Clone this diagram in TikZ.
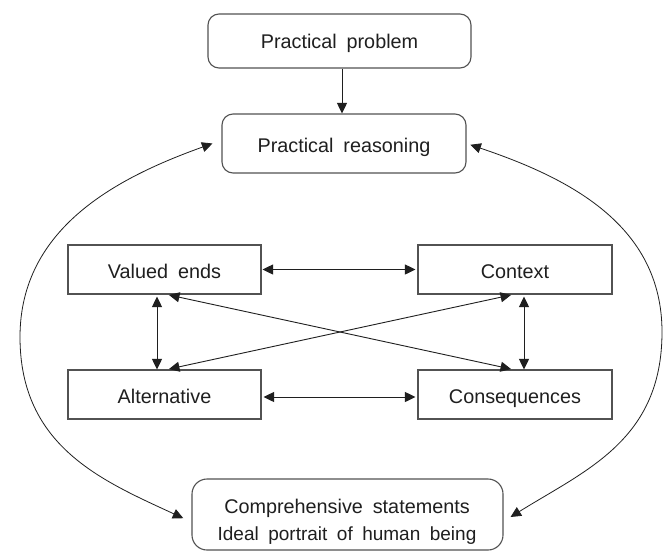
\documentclass[tikz,border=0pt]{standalone}
\usepackage{fontspec}
\setmainfont[WordSpace=1.8]{Liberation Sans}
\usetikzlibrary{arrows.meta}
\begin{document}
\begin{tikzpicture}[x=1pt,y=-1pt,
  box/.style={draw=black!68,line width=1.1pt,inner sep=0pt,align=center,text=black!88,
    text height=19pt,text depth=2pt,font=\fontsize{19.8}{24}\selectfont},
  rbox/.style={box,rounded corners=11pt},
  arr/.style={draw=black!88,line width=0.9pt,-{Triangle[length=10.5pt,width=10pt]}},
  darr/.style={draw=black!88,line width=0.9pt,{Triangle[length=10.5pt,width=10pt]}-{Triangle[length=10.5pt,width=10pt]}}]
\useasboundingbox (0,0) rectangle (671,552);
\fill[white] (0,0) rectangle (671,552);
\node[rbox,minimum width=263pt,minimum height=54pt,text height=17.5pt,text depth=3.5pt] (pp) at (339.5,41) {Practical problem};
\node[rbox,minimum width=244pt,minimum height=59pt] (pr) at (344,143.5) {Practical reasoning};
\node[box,minimum width=193pt,minimum height=49pt] (ve) at (164.5,269.5) {Valued ends};
\node[box,minimum width=194pt,minimum height=49pt] (ct) at (515,269.5) {Context};
\node[box,minimum width=193pt,minimum height=49pt] (al) at (164.5,394.5) {Alternative};
\node[box,minimum width=194pt,minimum height=49pt] (cq) at (515,394.5) {Consequences};
\node[box,rounded corners=15pt,minimum width=311pt,minimum height=71pt,text height=0pt,text depth=0pt] (cs) at (347.5,514.5) {};
\node[font=\fontsize{19.8}{24}\selectfont,text=black!88,inner sep=0pt,anchor=base] (cs1) at (347,513) {Comprehensive statements};
\node[font=\fontsize{19}{24}\selectfont,text=black!88,inner sep=0pt,anchor=base] (cs2) at (347,540) {Ideal portrait of human being};
% top arrow
\draw[arr] ([xshift=2.5pt]pp.south) -- ([xshift=-2pt]pr.north);
% horizontal
\draw[darr,shorten <=1pt,shorten >=2pt] (ve.east) -- (ct.west);
\draw[darr,shorten <=2pt,shorten >=2pt] ([yshift=-2.5pt]al.east) -- ([yshift=-2.5pt]cq.west);
% vertical
\draw[darr,shorten <=2pt] ([xshift=-7.5pt]ve.south) -- ([xshift=-7.5pt]al.north);
\draw[darr,shorten <=2pt] ([xshift=9pt]ct.south) -- ([xshift=9pt]cq.north);
% diagonals
\draw[darr,shorten <=2pt,shorten >=2pt] ([xshift=2.5pt]ve.south) -- ([xshift=-2pt]cq.north);
\draw[darr,shorten <=2pt,shorten >=2pt] ([xshift=2.5pt]al.north) -- ([xshift=-2pt]ct.south);
% big curves
\draw[darr,line width=0.8pt,shorten <=9pt] ([yshift=-7.5pt]cs.west) .. controls (103,481) and (20,447) .. (20,337)
   .. controls (20,227) and (119,177) .. ([xshift=-9pt]pr.west);
\draw[darr,line width=0.8pt,shorten <=4pt] (pr.east) .. controls (569,178) and (662,225) .. (662,332)
   .. controls (662,440) and (586,470) .. ([xshift=7pt,yshift=-2.5pt]cs.east);
\end{tikzpicture}
\end{document}
